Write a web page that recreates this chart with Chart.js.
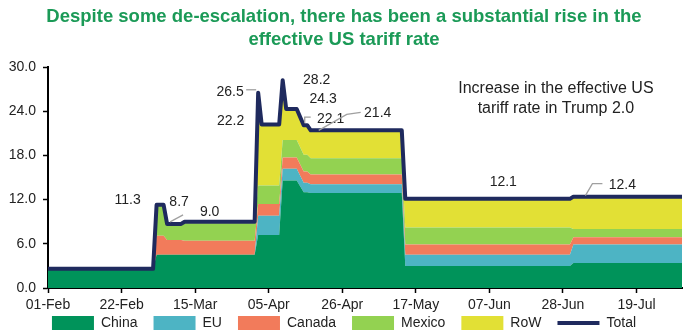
<!DOCTYPE html>
<html lang="en">
<head>
<meta charset="UTF-8">
<title>Effective US tariff rate</title>
<script src="https://cdn.jsdelivr.net/npm/chart.js"></script>
<style>
  html, body { margin: 0; padding: 0; background: #fff; }
</style>
</head>
<body>
<canvas id="tariffChart" width="700" height="336"></canvas>
<script>
// x = days counted from 01-Feb, values in %
const days   = [0, 30, 31, 33, 34, 38, 39, 59, 60, 61, 66, 67, 68, 71, 73, 74, 75, 101, 102, 149, 150, 181];
const china  = [2.6, 2.6, 4.5, 4.5, 4.5, 4.5, 4.5, 4.5, 7.2, 7.2, 7.2, 14.6, 14.6, 14.6, 13.0, 13.0, 12.9, 12.9, 3.0, 3.0, 3.4, 3.4];
const eu     = [0, 0, 0, 0, 0, 0, 0, 0, 2.6, 2.6, 2.6, 1.6, 1.6, 1.6, 1.3, 1.3, 1.2, 1.2, 1.5, 1.5, 2.5, 2.5];
const canada = [0, 0, 2.6, 2.6, 2.0, 2.0, 1.9, 1.9, 1.6, 1.6, 1.6, 1.5, 1.5, 1.5, 1.5, 1.5, 1.3, 1.3, 1.4, 1.4, 1.0, 1.0];
const mexico = [0, 0, 4.2, 4.2, 2.2, 2.2, 2.4, 2.4, 2.5, 2.5, 2.5, 2.4, 2.4, 2.4, 2.3, 2.3, 2.2, 2.2, 2.3, 2.3, 1.1, 1.1];
const row    = [0, 0, 0, 0, 0, 0, 0.2, 0.2, 12.6, 8.3, 8.3, 8.1, 4.2, 4.2, 4.0, 4.0, 3.8, 3.8, 3.9, 3.9, 4.4, 4.4];
const total  = [2.6, 2.6, 11.3, 11.3, 8.7, 8.7, 9.0, 9.0, 26.5, 22.2, 22.2, 28.2, 24.3, 24.3, 22.1, 22.1, 21.4, 21.4, 12.1, 12.1, 12.4, 12.4];

const tickDays   = [0, 21, 42, 63, 84, 105, 126, 147, 168];
const tickLabels = ['01-Feb', '22-Feb', '15-Mar', '05-Apr', '26-Apr', '17-May', '07-Jun', '28-Jun', '19-Jul'];

// points of the total line that carry a value label
const labelIdx = [2, 4, 6, 8, 9, 11, 12, 14, 16, 18, 20];

const titleLines = ['Despite some de-escalation, there has been a substantial rise in the', 'effective US tariff rate'];
const noteLines  = ['Increase in the effective US', 'tariff rate in Trump 2.0'];

const FONT = '"Liberation Sans", Arial, sans-serif';
Chart.defaults.font.family = FONT;
Chart.defaults.color = '#222';

function pts(arr) {
    return days.map((d, i) => ({ x: d, y: arr[i] }));
}

function area(label, arr, color, fill) {
    return {
        label: label,
        data: pts(arr),
        backgroundColor: color,
        borderColor: 'transparent',
        borderWidth: 0,
        pointRadius: 0,
        pointStyle: 'rect',
        fill: fill,
        tension: 0
    };
}

// label offsets from the point they describe (px), plus optional grey leader lines
const callouts = [
    { dx: -29, dy: -5 },
    { dx: 12, dy: -22, leader: [[3, -2], [16, -9]] },
    { dx: 25, dy: -10 },
    { dx: -28, dy: -1, leader: [[-12, -3], [-2, -3]] },
    { dx: -31, dy: -3 },
    { dx: 34, dy: 0 },
    { dx: 37, dy: -10 },
    { dx: 27, dy: -6, leader: [[1, -2], [1, -8], [7, -8]] },
    { dx: 67, dy: -17, leader: [[8, 0], [36, -16], [50, -18]] },
    { dx: 98, dy: -17 },
    { dx: 49, dy: -12, leader: [[12, -1], [19, -13], [29, -13]] }
];

const valueLabels = {
    id: 'valueLabels',
    afterDatasetsDraw(chart) {
        const ctx = chart.ctx;
        const x = chart.scales.x, y = chart.scales.y;
        ctx.save();
        ctx.textAlign = 'center';
        ctx.textBaseline = 'middle';
        ctx.font = '14px ' + FONT;
        labelIdx.forEach((i, k) => {
            const px = x.getPixelForValue(days[i]);
            const py = y.getPixelForValue(total[i]);
            const c = callouts[k];
            if (c.leader) {
                ctx.strokeStyle = '#a0a0a0';
                ctx.lineWidth = 1.3;
                ctx.beginPath();
                c.leader.forEach((p, j) => {
                    if (j === 0) ctx.moveTo(px + p[0], py + p[1]);
                    else ctx.lineTo(px + p[0], py + p[1]);
                });
                ctx.stroke();
            }
            ctx.fillStyle = '#222';
            ctx.fillText(total[i].toFixed(1), px + c.dx, py + c.dy);
        });

        ctx.font = '16px ' + FONT;
        const nx = x.getPixelForValue(145);
        ctx.fillText(noteLines[0], nx, y.getPixelForValue(27.1));
        ctx.fillText(noteLines[1], nx, y.getPixelForValue(24.4));
        ctx.restore();
    }
};

// the legend sits a little closer to the axis labels than chart.js would put it
const legendShift = {
    id: 'legendShift',
    afterLayout(chart) {
        chart.legend.top -= 12;
        chart.legend.bottom -= 12;
    }
};

const ctx = document.getElementById('tariffChart').getContext('2d');

new Chart(ctx, {
    type: 'line',
    data: {
        datasets: [
            area('China', china, '#00935a', 'origin'),
            area('EU', eu, '#4db4c4', '-1'),
            area('Canada', canada, '#f27b5b', '-1'),
            area('Mexico', mexico, '#93d251', '-1'),
            area('RoW', row, '#e2e035', '-1'),
            {
                label: 'Total',
                data: pts(total),
                stack: 'total',
                order: -1,
                borderColor: '#1f2a5e',
                backgroundColor: '#1f2a5e',
                borderWidth: 4,
                borderJoinStyle: 'round',
                borderCapStyle: 'round',
                pointRadius: 0,
                pointStyle: 'line',
                fill: false,
                tension: 0
            }
        ]
    },
    options: {
        responsive: false,
        animation: false,
        layout: { padding: { top: 0, right: 18, bottom: -16, left: 6 } },
        plugins: {
            title: {
                display: true,
                text: titleLines,
                color: '#1b9a57',
                font: { size: 18.5, weight: 'bold', lineHeight: 1.25 },
                padding: { top: 5.5, bottom: 15.25 }
            },
            legend: {
                position: 'bottom',
                labels: {
                    usePointStyle: true,
                    pointStyleWidth: 42,
                    boxHeight: 14,
                    padding: 16,
                    color: '#222',
                    font: { size: 14 },
                    sort: (a, b) => a.datasetIndex - b.datasetIndex
                }
            },
            tooltip: { enabled: false }
        },
        scales: {
            x: {
                type: 'linear',
                min: 0,
                max: 181,
                afterFit(s) { s.height = 24; },
                afterBuildTicks(s) { s.ticks = tickDays.map(v => ({ value: v })); },
                ticks: {
                    autoSkip: false,
                    maxRotation: 0,
                    padding: 4,
                    color: '#222',
                    font: { size: 14 },
                    callback: v => tickLabels[tickDays.indexOf(v)]
                },
                grid: { drawOnChartArea: false, drawTicks: true, tickLength: 5, tickColor: '#000', tickWidth: 1.5 },
                border: { display: true, color: '#000', width: 2 }
            },
            y: {
                stacked: true,
                min: 0,
                max: 30,
                afterFit(s) { s.width = 42; },
                ticks: {
                    stepSize: 6,
                    padding: 7,
                    color: '#222',
                    font: { size: 14 },
                    callback: v => v.toFixed(1)
                },
                grid: { drawOnChartArea: false, drawTicks: true, tickLength: 5, tickColor: '#000', tickWidth: 1.5 },
                border: { display: true, color: '#000', width: 2 }
            }
        }
    },
    plugins: [valueLabels, legendShift]
});
</script>
</body>
</html>
